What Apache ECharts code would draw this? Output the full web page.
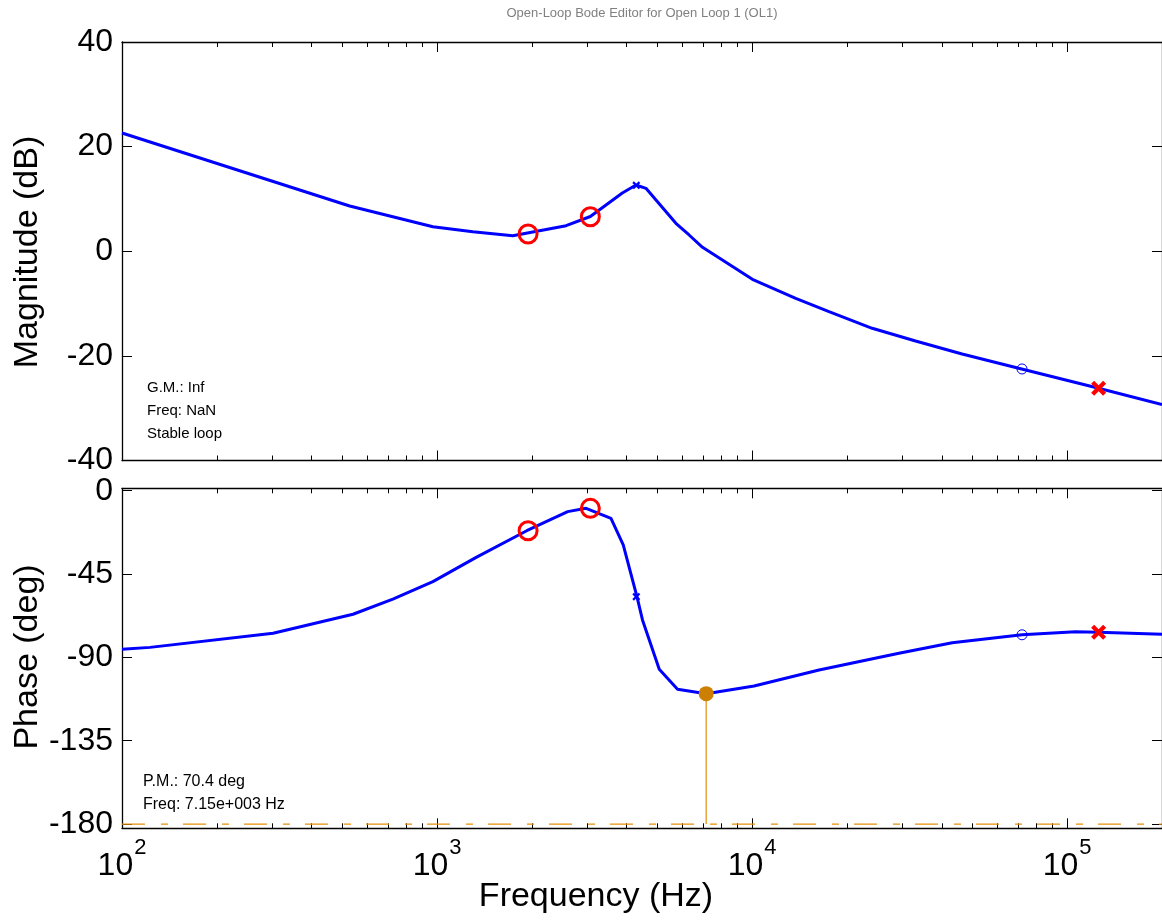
<!DOCTYPE html>
<html>
<head>
<meta charset="utf-8">
<script src="https://cdn.jsdelivr.net/npm/echarts@6/dist/echarts.min.js"></script>
<style>
html, body { margin: 0; padding: 0; background: #fff; }
#chart { width: 1162px; height: 921px; }
</style>
</head>
<body>
<div id="chart"></div>
<script>
// Open-loop Bode response of OL1: magnitude (dB) and phase (deg) versus frequency (Hz)
const titleText = 'Open-Loop Bode Editor for Open Loop 1 (OL1)';

const magFreqHz = [100, 528, 970, 1299, 1739, 2568, 3066, 3873, 4279, 4603, 5729, 6310, 6959,
  10020, 13755, 17540, 24050, 33020, 46400, 70150, 101100, 125850, 200000];
const magDb = [22.6, 8.65, 4.69, 3.74, 2.97, 4.88, 6.64, 11.14, 12.66, 12.03, 5.34, 3.11, 0.76,
  -5.36, -8.99, -11.56, -14.73, -17.16, -19.64, -22.38, -24.75, -26.2, -29.3];

const phaseFreqHz = [100, 122.7, 301.7, 541, 724, 970, 1331, 1926, 2598, 2972, 3565, 3899, 4310,
  4488, 5073, 5798, 7150, 10146, 16310, 29240, 43150, 71900, 106200, 125850, 200000];
const phaseDeg = [-85.6, -84.6, -77.0, -66.7, -58.5, -49.1, -36.0, -21.6, -11.3, -9.5, -14.9, -29.3, -57.2,
  -69.8, -96.4, -107.2, -109.6, -105.5, -96.8, -87.8, -82.1, -77.8, -76.1, -76.5, -77.5];

// Compensator zeros (red circles) and pole (red cross)
const compZeroFreqHz = [1945, 3066];
const compZeroMagDb = [3.3, 6.6];
const compZeroPhaseDeg = [-21.6, -9.5];
const compPoleFreqHz = [125850];
const compPoleMagDb = [-26.2];
const compPolePhaseDeg = [-76.5];

// Plant pole (small blue cross) and plant zero (small blue circle)
const plantPoleFreqHz = [4290];
const plantPoleMagDb = [12.6];
const plantPolePhaseDeg = [-57.2];
const plantZeroFreqHz = [71900];
const plantZeroMagDb = [-22.5];
const plantZeroPhaseDeg = [-77.8];

// Phase margin marker
const pmFreqHz = 7150;
const pmPhaseDeg = -109.6;
const phaseRefDeg = -180;

// Axis ticks
const freqRange = [100, 200000];
const freqDecades = [100, 1000, 10000, 100000];
const magTicks = [-40, -20, 0, 20, 40];
const phaseTicks = [-180, -135, -90, -45, 0];
const phaseRange = [-182.3, 1.3];

const gmLines = ['G.M.: Inf', 'Freq: NaN', 'Stable loop'];
const pmLines = ['P.M.: 70.4 deg', 'Freq: 7.15e+003 Hz'];

const FONT = "'Liberation Sans', Arial, Helvetica, sans-serif";
const BLUE = '#0000ff';
const RED = '#ff0000';

const freqMinor = [];
freqDecades.forEach(d => {
  for (let k = 2; k <= 9; k++) {
    if (d * k < freqRange[1]) freqMinor.push(d * k);
  }
});

const pair = (xs, ys) => xs.map((x, i) => [x, ys[i]]);
const CROSS = 'path://M0,2L2,0L5,3L8,0L10,2L7,5L10,8L8,10L5,7L2,10L0,8L3,5Z';

function xAxis(gridIndex, position, values, len, showLine, showLabel) {
  return {
    type: 'log', logBase: 10, min: freqRange[0], max: freqRange[1],
    gridIndex, position,
    axisLine: { show: showLine, onZero: false, lineStyle: { color: '#000', width: 1.3 } },
    axisTick: { show: true, inside: true, length: len, customValues: values,
      lineStyle: { color: '#000', width: 1 } },
    axisLabel: showLabel ? {
      customValues: freqDecades, margin: 22,
      formatter: v => '{b|10}{s|' + Math.round(Math.log10(v)) + '}',
      rich: {
        b: { fontSize: 32, fontFamily: FONT, color: '#000', verticalAlign: 'bottom', lineHeight: 32 },
        s: { fontSize: 22, fontFamily: FONT, color: '#000', verticalAlign: 'bottom', lineHeight: 22, padding: [0, 0, 23, 1] }
      }
    } : { show: false },
    splitLine: { show: false },
    minorTick: { show: false }
  };
}

function yAxis(gridIndex, position, range, ticks, showLabel) {
  return {
    type: 'value', gridIndex, position, min: range[0], max: range[1],
    axisLine: { show: true, onZero: false, lineStyle: { color: '#000', width: 1.3 } },
    axisTick: { show: true, inside: true, length: 10, customValues: ticks,
      lineStyle: { color: '#000', width: 1 } },
    axisLabel: showLabel ? { customValues: ticks, margin: 9, fontSize: 32, fontFamily: FONT, color: '#000' }
      : { show: false },
    splitLine: { show: false }
  };
}

const grids = [
  { left: 122, top: 42, width: 1041.5, height: 418.5 },
  { left: 122, top: 488.3, width: 1041.5, height: 340 }
];

const xAxes = [
  xAxis(0, 'bottom', freqDecades, 10, true, false),
  xAxis(0, 'top', freqDecades, 10, true, false),
  xAxis(0, 'bottom', freqMinor, 5, false, false),
  xAxis(0, 'top', freqMinor, 5, false, false),
  xAxis(1, 'bottom', freqDecades, 10, true, true),
  xAxis(1, 'top', freqDecades, 10, true, false),
  xAxis(1, 'bottom', freqMinor, 5, false, false),
  xAxis(1, 'top', freqMinor, 5, false, false)
];

const yAxes = [
  yAxis(0, 'left', [magTicks[0], magTicks[magTicks.length - 1]], magTicks, true),
  yAxis(0, 'right', [magTicks[0], magTicks[magTicks.length - 1]], magTicks, false),
  yAxis(1, 'left', phaseRange, phaseTicks, true),
  yAxis(1, 'right', phaseRange, phaseTicks, false)
];

const curve = (xi, yi, data) => ({
  type: 'line', xAxisIndex: xi, yAxisIndex: yi, data, symbol: 'none',
  lineStyle: { color: BLUE, width: 3 }, silent: true, animation: false, z: 3
});

const marks = (xi, yi, data, symbol, size, style) => ({
  type: 'scatter', xAxisIndex: xi, yAxisIndex: yi, data, symbol, symbolSize: size,
  itemStyle: Object.assign({ opacity: 1 }, style), silent: true, animation: false, z: 5
});

const ringStyle = (c, w) => ({ color: 'rgba(0,0,0,0)', borderColor: c, borderWidth: w });

const series = [
  // Magnitude panel
  curve(0, 0, pair(magFreqHz, magDb)),
  marks(0, 0, pair(compZeroFreqHz, compZeroMagDb), 'circle', 18, ringStyle(RED, 3)),
  marks(0, 0, pair(compPoleFreqHz, compPoleMagDb), CROSS, 15, { color: RED }),
  marks(0, 0, pair(plantPoleFreqHz, plantPoleMagDb), CROSS, 8, { color: BLUE }),
  marks(0, 0, pair(plantZeroFreqHz, plantZeroMagDb), 'circle', 10, ringStyle(BLUE, 1)),
  // Phase panel
  {
    type: 'line', xAxisIndex: 4, yAxisIndex: 2, symbol: 'none', silent: true, animation: false, z: 2,
    data: [[freqRange[0], phaseRefDeg], [freqRange[1], phaseRefDeg]],
    lineStyle: { color: '#e8900c', width: 1.3, type: [23, 16, 7, 15] }
  },
  {
    type: 'line', xAxisIndex: 4, yAxisIndex: 2, symbol: 'none', silent: true, animation: false, z: 2,
    data: [[pmFreqHz, pmPhaseDeg], [pmFreqHz, phaseRefDeg]],
    lineStyle: { color: '#e8a33c', width: 1.5 }
  },
  curve(4, 2, pair(phaseFreqHz, phaseDeg)),
  marks(4, 2, [[pmFreqHz, pmPhaseDeg]], 'circle', 15, { color: '#cc7f00' }),
  marks(4, 2, pair(compZeroFreqHz, compZeroPhaseDeg), 'circle', 18, ringStyle(RED, 3)),
  marks(4, 2, pair(compPoleFreqHz, compPolePhaseDeg), CROSS, 15, { color: RED }),
  marks(4, 2, pair(plantPoleFreqHz, plantPolePhaseDeg), CROSS, 8, { color: BLUE }),
  marks(4, 2, pair(plantZeroFreqHz, plantZeroPhaseDeg), 'circle', 10, ringStyle(BLUE, 1))
];

const txt = (text, x, y, size) => ({
  type: 'text', x, y, silent: true,
  style: { text, font: size + 'px ' + FONT, fill: '#000', align: 'left', verticalAlign: 'middle' }
});

const graphic = [
  { type: 'text', x: 642, y: 13, silent: true,
    style: { text: titleText, font: '13px ' + FONT, fill: '#808080', align: 'center', verticalAlign: 'middle' } },
  { type: 'text', x: 28, y: 252, rotation: Math.PI / 2, silent: true,
    style: { text: 'Magnitude (dB)', font: '34px ' + FONT, fill: '#000', align: 'center', verticalAlign: 'middle' } },
  { type: 'text', x: 28, y: 657, rotation: Math.PI / 2, silent: true,
    style: { text: 'Phase (deg)', font: '34px ' + FONT, fill: '#000', align: 'center', verticalAlign: 'middle' } },
  { type: 'text', x: 596, y: 897, silent: true,
    style: { text: 'Frequency (Hz)', font: '34px ' + FONT, fill: '#000', align: 'center', verticalAlign: 'middle' } }
];
gmLines.forEach((t, i) => graphic.push(txt(t, 147, 388 + 23 * i, 15)));
pmLines.forEach((t, i) => graphic.push(txt(t, 143, 782 + 23 * i, 16)));

const chart = echarts.init(document.getElementById('chart'), null, { renderer: 'canvas' });
chart.setOption({
  animation: false,
  backgroundColor: '#fff',
  grid: grids,
  xAxis: xAxes,
  yAxis: yAxes,
  series,
  graphic
});
</script>
</body>
</html>
